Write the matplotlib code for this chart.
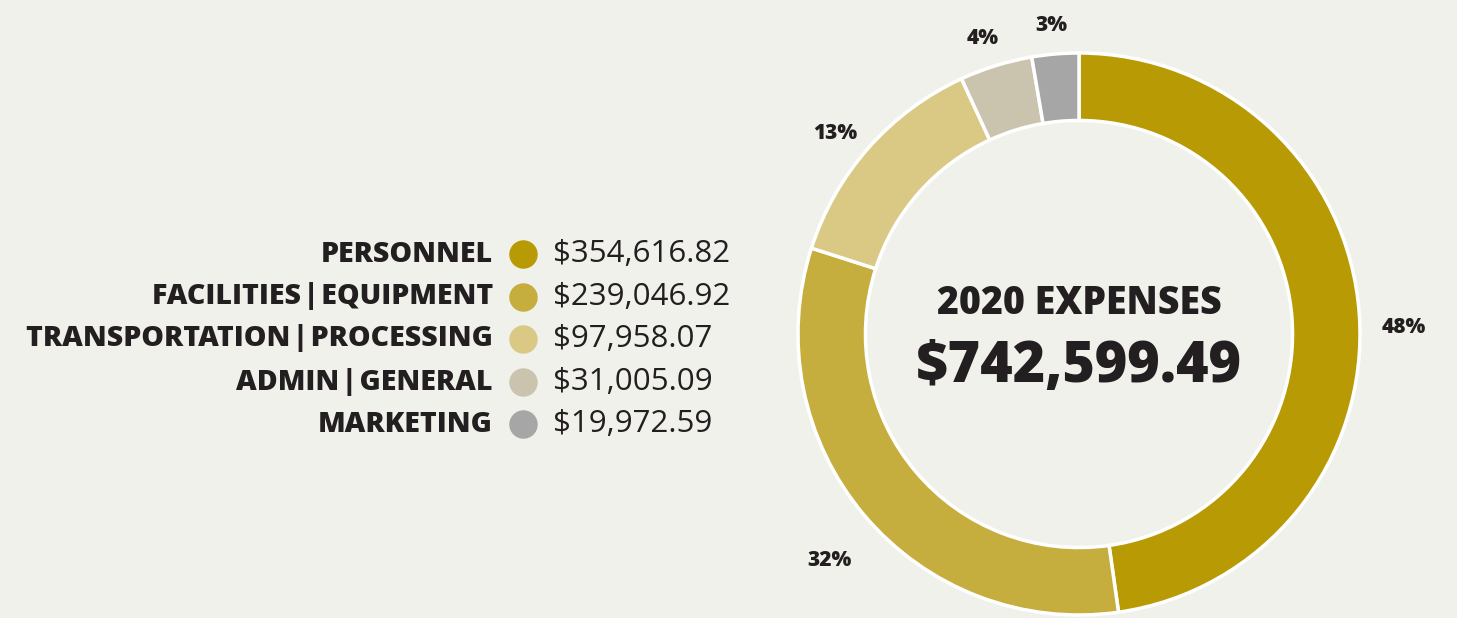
import matplotlib.pyplot as plt

categories = ['PERSONNEL', 'FACILITIES|EQUIPMENT', 'TRANSPORTATION|PROCESSING',
              'ADMIN|GENERAL', 'MARKETING']
amounts = [354616.82, 239046.92, 97958.07, 31005.09, 19972.59]
amount_labels = ['$354,616.82', '$239,046.92', '$97,958.07', '$31,005.09', '$19,972.59']
colors = ['#b89a05', '#c5ad3e', '#d9c985', '#cac4ae', '#a6a6a6']
title_text = '2020 EXPENSES'
total_text = '$742,599.49'

bg = '#f1f1ec'
ink = '#231f20'
font = ['Open Sans', 'DejaVu Sans']

fig = plt.figure(figsize=(14.57, 6.18), dpi=100, facecolor=bg)
ax = fig.add_axes([0, 0, 1, 1])
ax.set_facecolor(bg)

# donut, pixel-like coordinates so it lines up with the legend text
cx, cy, R = 1079, 284, 281
wedges, texts, autotexts = ax.pie(
    amounts, colors=colors, startangle=90, counterclock=False,
    center=(cx, cy), radius=R,
    autopct=lambda p: '%d%%' % round(p), pctdistance=1.16,
    wedgeprops=dict(width=R * 0.24, edgecolor='white', linewidth=2.5),
    textprops=dict(color=ink, fontsize=15, fontweight='heavy', family=font))
for t in autotexts:
    x, y = t.get_position()
    t.set_position((x, y - 16))

ax.set_xlim(0, 1457)
ax.set_ylim(0, 618)
ax.set_aspect('equal')
ax.axis('off')

ax.text(cx, 618 - 304, title_text, ha='center', va='center', fontsize=27,
        fontweight='heavy', color=ink, family=font)
ax.text(cx, 618 - 367, total_text, ha='center', va='center', fontsize=40,
        fontweight='heavy', color=ink, family=font)

# legend on the left
row_y = [254, 297, 339, 382, 424]
for name, amt, col, y in zip(categories, amount_labels, colors, row_y):
    yy = 618 - y
    ax.text(493, yy, name.replace('|', '\u200a|\u200a'), ha='right', va='center',
            fontsize=20.5, fontweight='heavy', color=ink, family=font)
    ax.scatter([523], [yy], s=420, color=col, linewidths=0, zorder=3)
    ax.text(553, yy, amt, ha='left', va='center', fontsize=22.5,
            fontweight='normal', color=ink, family=font)

fig.savefig('out.png', dpi=100, facecolor=bg)
